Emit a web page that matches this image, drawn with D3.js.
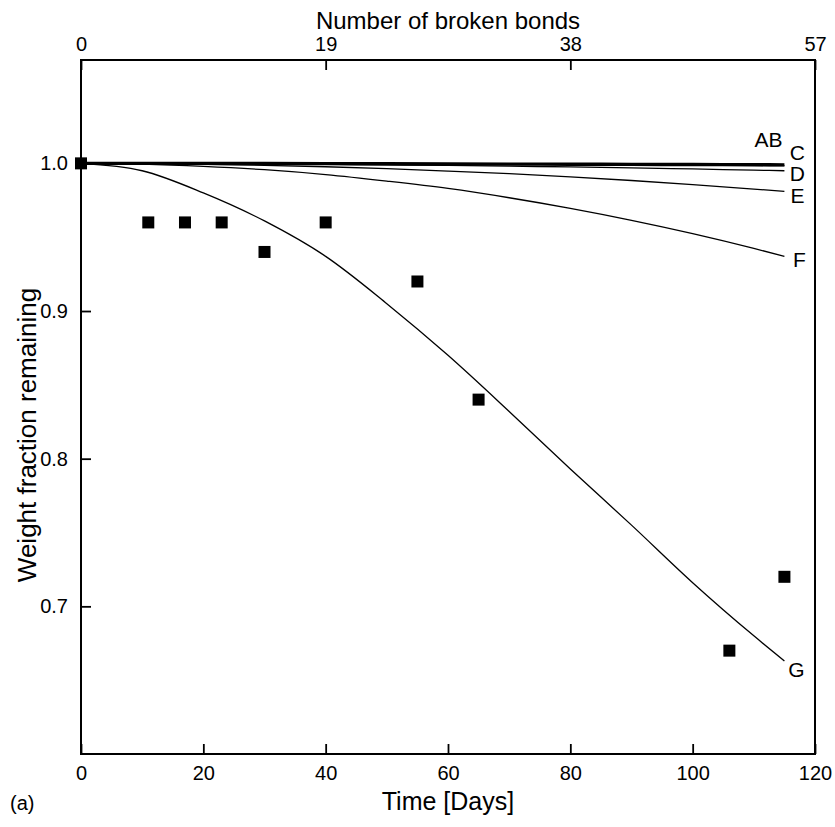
<!DOCTYPE html>
<html>
<head>
<meta charset="utf-8">
<script src="https://cdn.jsdelivr.net/npm/d3@7"></script>
<style>
  body { margin: 0; background: #fff; }
  text { font-family: "Liberation Sans", Arial, sans-serif; fill: #000; }
</style>
</head>
<body>
<div id="chart"></div>
<script>
// measured points (days, weight fraction)
const obsDays = [0, 11, 17, 23, 30, 40, 55, 65, 106, 115];
const obsWeight = [1.0, 0.96, 0.96, 0.96, 0.94, 0.96, 0.92, 0.84, 0.67, 0.72];

// model curves
const curveDays = [0, 10, 20, 30, 40, 50, 60, 70, 80, 90, 100, 110, 115];
const curveAB = [1.0, 1.0, 1.0, 0.9999, 0.9998, 0.9997, 0.9996, 0.9995, 0.9994, 0.9993, 0.9992, 0.9991, 0.999];
const curveC = [1.0, 1.0, 0.9999, 0.9999, 0.9998, 0.9997, 0.9996, 0.9994, 0.9993, 0.9991, 0.9989, 0.9986, 0.9985];
const curveD = [1.0, 1.0, 0.9998, 0.9996, 0.9994, 0.999, 0.9986, 0.9981, 0.9976, 0.997, 0.9962, 0.9954, 0.995];
const curveE = [1.0, 0.9999, 0.9994, 0.9987, 0.9977, 0.9964, 0.9948, 0.993, 0.9908, 0.9884, 0.9856, 0.9826, 0.981];
const curveF = [1.0, 0.9995, 0.998, 0.9957, 0.9924, 0.988, 0.983, 0.9767, 0.9695, 0.9614, 0.9524, 0.9424, 0.937];
const curveG = [1.0, 0.995, 0.98, 0.961, 0.937, 0.905, 0.87, 0.832, 0.793, 0.755, 0.716, 0.68, 0.663];
const curveNames = ["AB", "C", "D", "E", "F", "G"];

const xTicks = [0, 20, 40, 60, 80, 100, 120];
const bondTicks = [0, 19, 38, 57];
const yTicks = [0.7, 0.8, 0.9, 1.0];

const W = 835, H = 827;
const mLeft = 81, mRight = 815, mTop = 60, mBottom = 754;

const svg = d3.select("#chart").append("svg")
    .attr("width", W)
    .attr("height", H);

const x = d3.scaleLinear().domain([0, 120]).range([mLeft, mRight]);
const xBonds = d3.scaleLinear().domain([0, 57]).range([mLeft, mRight]);
const y = d3.scaleLinear().domain([0.6, 1.07]).range([mBottom, mTop]);

// frame
svg.append("rect")
    .attr("x", mLeft).attr("y", mTop)
    .attr("width", mRight - mLeft).attr("height", mBottom - mTop)
    .attr("fill", "none").attr("stroke", "#000").attr("stroke-width", 2);

// bottom axis, ticks pointing in
const xAxis = svg.append("g")
    .attr("transform", `translate(0,${mBottom})`)
    .call(d3.axisBottom(x).tickValues(xTicks).tickSizeInner(-10).tickSizeOuter(0).tickPadding(12));
// top axis (bonds)
const topAxis = svg.append("g")
    .attr("transform", `translate(0,${mTop})`)
    .call(d3.axisTop(xBonds).tickValues(bondTicks).tickSizeInner(-10).tickSizeOuter(0).tickPadding(9));
// left axis
const yAxis = svg.append("g")
    .attr("transform", `translate(${mLeft},0)`)
    .call(d3.axisLeft(y).tickValues(yTicks).tickFormat(d3.format(".1f")).tickSizeInner(-10).tickSizeOuter(0).tickPadding(13));

[xAxis, topAxis, yAxis].forEach(g => {
    g.select(".domain").remove();
    g.selectAll("line").attr("stroke", "#000").attr("stroke-width", 1.8);
    g.selectAll("text").attr("font-size", 20).attr("font-family", "Liberation Sans, Arial, sans-serif").attr("fill", "#000");
});

// curves
const curveData = [curveAB, curveC, curveD, curveE, curveF, curveG];
const line = d3.line()
    .x((d, i) => x(curveDays[i]))
    .y(d => y(d))
    .curve(d3.curveMonotoneX);

svg.append("g").selectAll("path")
    .data(curveData)
    .join("path")
    .attr("d", line)
    .attr("fill", "none")
    .attr("stroke", "#000")
    .attr("stroke-width", (d, i) => i === 0 ? 3.4 : 1.3);

// curve labels
const labelPos = [
    { dx: -16, dy: -23 },
    { dx: 13, dy: -11 },
    { dx: 13, dy: 5 },
    { dx: 13, dy: 6 },
    { dx: 15, dy: 5 },
    { dx: 12, dy: 10 }
];
svg.append("g").selectAll("text")
    .data(curveNames)
    .join("text")
    .attr("x", (d, i) => x(curveDays[curveDays.length - 1]) + labelPos[i].dx)
    .attr("y", (d, i) => y(curveData[i][curveData[i].length - 1]) + labelPos[i].dy)
    .attr("text-anchor", "middle")
    .attr("dominant-baseline", "middle")
    .attr("font-size", 21)
    .text(d => d);

// observed squares
const sq = 12;
svg.append("g").selectAll("rect")
    .data(obsDays)
    .join("rect")
    .attr("x", d => x(d) - sq / 2)
    .attr("y", (d, i) => y(obsWeight[i]) - sq / 2)
    .attr("width", sq)
    .attr("height", sq)
    .attr("fill", "#000");

// titles
svg.append("text")
    .attr("x", (mLeft + mRight) / 2).attr("y", 810)
    .attr("text-anchor", "middle")
    .attr("font-size", 25)
    .text("Time [Days]");

svg.append("text")
    .attr("x", (mLeft + mRight) / 2).attr("y", 29)
    .attr("text-anchor", "middle")
    .attr("font-size", 24)
    .text("Number of broken bonds");

svg.append("text")
    .attr("transform", `translate(36,435) rotate(-90)`)
    .attr("text-anchor", "middle")
    .attr("font-size", 26)
    .text("Weight fraction remaining");

svg.append("text")
    .attr("x", 10).attr("y", 810)
    .attr("font-size", 20)
    .text("(a)");
</script>
</body>
</html>
